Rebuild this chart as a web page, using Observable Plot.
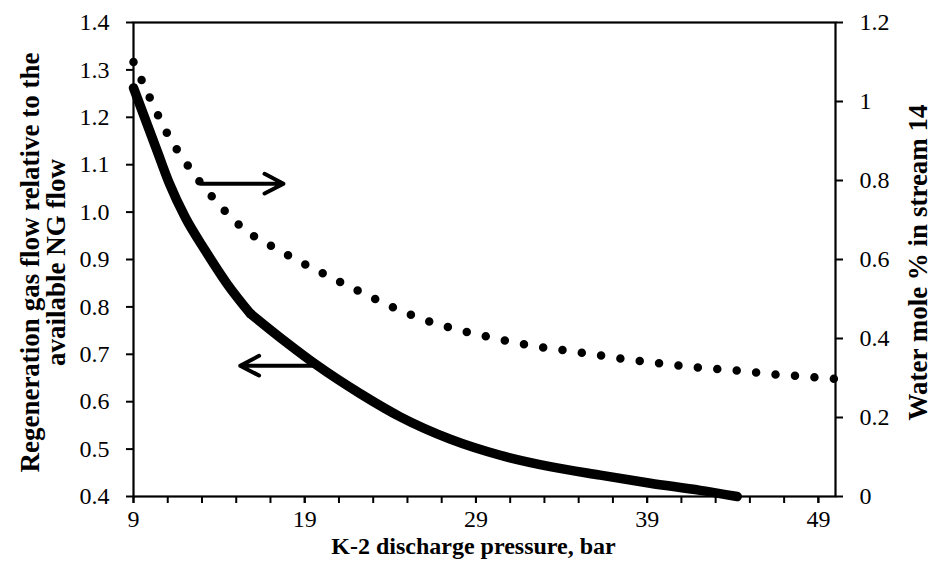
<!DOCTYPE html>
<html><head><meta charset="utf-8">
<script src="https://cdn.jsdelivr.net/npm/d3@7"></script>
<script src="https://cdn.jsdelivr.net/npm/@observablehq/plot@0.6"></script>
<style>body{margin:0;background:#fff}</style>
</head><body><div id="chart"></div>
<script>
// K-2 discharge pressure (bar) and regeneration gas flow relative to available NG flow (left axis)
const regenPressure = [9, 10.37, 11.1, 12.02, 13.19, 14.46, 15.82, 17.86, 19.71, 22.24, 24.58, 27.5, 30.42, 33.34, 36.26, 39.18, 42.1, 44.26];
const regenFlow = [1.262, 1.13, 1.06, 0.989, 0.919, 0.849, 0.786, 0.727, 0.677, 0.617, 0.568, 0.521, 0.487, 0.463, 0.445, 0.428, 0.413, 0.4];
const regenKinkPressure = 15.82;

// Water mole % in stream 14 (right axis)
const waterPressure = [9, 9.98, 11.01, 12.27, 13.73, 15.39, 17.34, 19.42, 21.5, 23.6, 25.75, 27.98, 30.26, 32.56, 34.88, 37.2, 39.51, 41.85, 44.15, 46.48, 48.82, 50];
const waterMole = [1.1, 1.007, 0.916, 0.832, 0.752, 0.679, 0.627, 0.579, 0.534, 0.49, 0.451, 0.422, 0.399, 0.38, 0.366, 0.351, 0.338, 0.327, 0.319, 0.309, 0.302, 0.298];

// Axes
const xMinorTicks = [9, 11, 13, 15, 17, 19, 21, 23, 25, 27, 29, 31, 33, 35, 37, 39, 41, 43, 45, 47, 49];
const xLabelTicks = [9, 19, 29, 39, 49];
const leftTicks = [0.4, 0.5, 0.6, 0.7, 0.8, 0.9, 1.0, 1.1, 1.2, 1.3, 1.4];
const rightTicks = [0, 0.2, 0.4, 0.6, 0.8, 1, 1.2];
const rightTickLabels = ["0", "0.2", "0.4", "0.6", "0.8", "1", "1.2"];

// Annotation arrows (x from, x to, y on left scale)
const arrowFromX = [12.95, 19.71];
const arrowToX = [17.76, 15.23];
const arrowY = [1.06, 0.676];

const leftDomain = [0.4, 1.4];
const rightDomain = [0, 1.2];
const toLeft = v => leftDomain[0] + (v - rightDomain[0]) * (leftDomain[1] - leftDomain[0]) / (rightDomain[1] - rightDomain[0]);

const regen = regenPressure.map((x, i) => ({x, y: regenFlow[i]}));
const regenUpper = regen.filter(d => d.x <= regenKinkPressure);
const regenLower = regen.filter(d => d.x >= regenKinkPressure);
const water = waterPressure.map((x, i) => ({x, y: toLeft(waterMole[i])}));
const rightPos = rightTicks.map(toLeft);
const arrows = arrowFromX.map((x1, i) => ({x1, x2: arrowToX[i], y: arrowY[i]}));

const chart = Plot.plot({
  width: 933,
  height: 571,
  marginLeft: 133,
  marginRight: 98,
  marginTop: 22,
  marginBottom: 75,
  x: {domain: [9, 50]},
  y: {domain: leftDomain},
  style: {fontFamily: "'Liberation Serif', 'Times New Roman', serif", fontSize: "24px", color: "black", background: "white"},
  marks: [
    Plot.line(regenUpper, {x: "x", y: "y", stroke: "black", strokeWidth: 9.5, curve: "monotone-x", strokeLinejoin: "round"}),
    Plot.line(regenLower, {x: "x", y: "y", stroke: "black", strokeWidth: 9.5, curve: "monotone-x", strokeLinejoin: "round", strokeLinecap: "round"}),
    Plot.line(water, {x: "x", y: "y", stroke: "black", strokeWidth: 8.5, curve: "monotone-x", strokeDasharray: "0 19.5", strokeLinecap: "round"}),
    Plot.arrow(arrows, {x1: "x1", x2: "x2", y1: "y", y2: "y", stroke: "black", strokeWidth: 4, headLength: 8, headAngle: 55}),
    Plot.frame({stroke: "black", strokeWidth: 2.2}),
    Plot.axisX(xMinorTicks, {tickSize: 7, strokeWidth: 2, tickFormat: () => "", label: null}),
    Plot.axisX(xLabelTicks, {tickSize: 7, strokeWidth: 2, tickPadding: 6, tickFormat: d => String(d), label: null, fontSize: 24}),
    Plot.axisY(leftTicks, {anchor: "left", tickSize: 7, strokeWidth: 2, tickPadding: 17, tickFormat: d3.format(".1f"), label: null, fontSize: 24}),
    Plot.axisY(rightPos, {anchor: "right", tickSize: 7, strokeWidth: 2, tickPadding: 17, tickFormat: d => rightTickLabels[rightPos.indexOf(d)], label: null, fontSize: 24}),
    Plot.text(["K-2 discharge pressure, bar"], {frameAnchor: "bottom", textAnchor: "middle", dy: 57, dx: -11, lineAnchor: "bottom", fontWeight: "bold", fontSize: 24}),
    Plot.text(["Regeneration gas flow relative to the\navailable NG flow"], {frameAnchor: "left", textAnchor: "middle", dx: -90, dy: 3, rotate: -90, lineAnchor: "middle", fontWeight: "bold", fontSize: 27, lineHeight: 0.95}),
    Plot.text(["Water mole % in stream 14"], {frameAnchor: "right", textAnchor: "middle", dx: 83, dy: 3, rotate: -90, lineAnchor: "middle", fontWeight: "bold", fontSize: 27})
  ]
});
document.getElementById("chart").appendChild(chart);
</script>
</body></html>
